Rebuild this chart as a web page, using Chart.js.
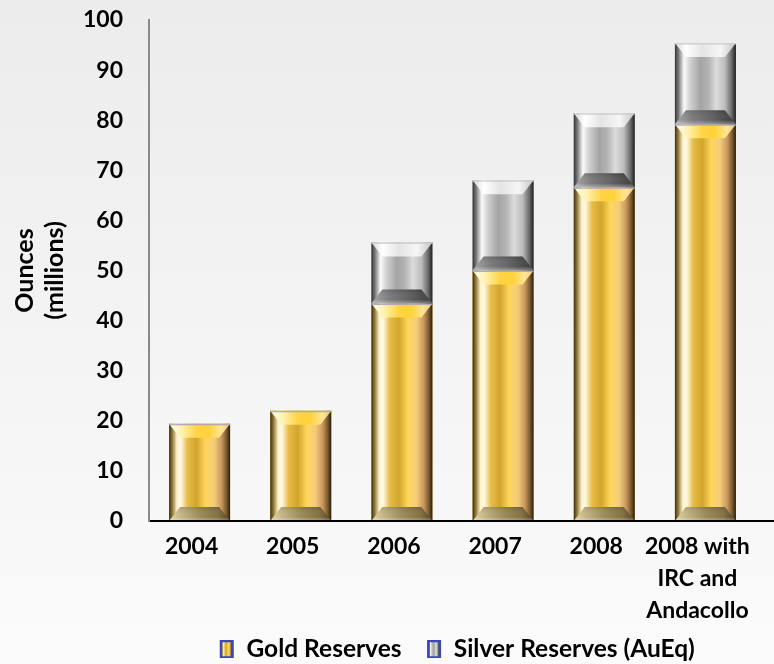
<!DOCTYPE html>
<html>
<head>
<meta charset="utf-8">
<script src="https://cdn.jsdelivr.net/npm/chart.js@4/dist/chart.umd.min.js"></script>
<style>
html,body{margin:0;padding:0;background:#f4f4f4;}
canvas{display:block;}
</style>
</head>
<body>
<canvas id="c" width="774" height="664"></canvas>
<script>
// ---- data ----
const categories = ['2004', '2005', '2006', '2007', '2008', ['2008 with', 'IRC and', 'Andacollo']];
const goldReserves = [19.4, 22.0, 43.4, 50.0, 66.6, 79.2];
const silverReserves = [null, null, 12.2, 18.0, 14.8, 16.2];
const seriesNames = ['Gold Reserves', 'Silver Reserves (AuEq)'];
const yTitle = ['Ounces', '(millions)'];
const yMin = 0, yMax = 100, yStep = 10;

// ---- styles ----
const FONT = 'Lato, "Open Sans", "Liberation Sans", sans-serif';
const PALETTES = [
  { // gold
    body: [[0,'#3e2f0c'],[0.05,'#8a7434'],[0.13,'#fff3cc'],[0.19,'#fff8e6'],[0.3,'#e6bd48'],[0.45,'#d2a52c'],[0.6,'#ffd65c'],[0.74,'#f4cc7a'],[0.86,'#c8965c'],[0.94,'#7a5a30'],[1,'#2a1d08']],
    top: [[0,'#fffdf0'],[0.2,'#fff2b4'],[0.45,'#ffd443'],[0.65,'#ffd23a'],[0.85,'#ffe594'],[1,'#f2c88c']],
    bottom: [[0,'#e0d4a8'],[0.2,'#c4b484'],[0.5,'#9c8a5a'],[0.8,'#847040'],[1,'#4e4024']],
    edge: 'rgba(170,165,185,0.9)',
    solid: '#e2b43a'
  },
  { // silver
    body: [[0,'#343434'],[0.06,'#7a7a7a'],[0.15,'#fbfbfb'],[0.25,'#d0d0d0'],[0.42,'#a4a4a4'],[0.55,'#b4b4b4'],[0.68,'#dcdcdc'],[0.82,'#bcbcbc'],[0.93,'#6a6a6a'],[1,'#1e1e1e']],
    top: [[0,'#d8d8d8'],[0.18,'#ffffff'],[0.45,'#e4e4e4'],[0.75,'#f6f6f6'],[1,'#c4c4c4']],
    bottom: [[0,'#a8a8a8'],[0.3,'#7a7a7a'],[0.6,'#626262'],[1,'#3a3a3a']],
    edge: 'rgba(205,205,205,0.9)',
    solid: '#b0b0b0'
  }
];

function hGrad(ctx, x0, x1, stops) {
  const g = ctx.createLinearGradient(x0, 0, x1, 0);
  stops.forEach(s => g.addColorStop(s[0], s[1]));
  return g;
}

function paintBar(ctx, x0, x1, yT, yB, pal) {
  const w = x1 - x0, h = yB - yT;
  const bx = Math.min(11, w / 4), by = Math.min(14, h / 3);
  ctx.save();
  ctx.fillStyle = hGrad(ctx, x0, x1, pal.body);
  ctx.fillRect(x0, yT, w, h);
  // top bevel
  ctx.beginPath();
  ctx.moveTo(x0, yT); ctx.lineTo(x1, yT); ctx.lineTo(x1 - bx, yT + by); ctx.lineTo(x0 + bx, yT + by); ctx.closePath();
  ctx.fillStyle = hGrad(ctx, x0, x1, pal.top);
  ctx.fill();
  // bottom bevel
  ctx.beginPath();
  ctx.moveTo(x0, yB); ctx.lineTo(x1, yB); ctx.lineTo(x1 - bx, yB - by); ctx.lineTo(x0 + bx, yB - by); ctx.closePath();
  ctx.fillStyle = hGrad(ctx, x0, x1, pal.bottom);
  ctx.fill();
  const vg = ctx.createLinearGradient(0, yB - by, 0, yB);
  vg.addColorStop(0, 'rgba(0,0,0,0.12)');
  vg.addColorStop(0.7, 'rgba(255,255,255,0)');
  vg.addColorStop(1, 'rgba(255,255,255,0.35)');
  ctx.fillStyle = vg;
  ctx.fill();
  // thin top edge
  ctx.fillStyle = pal.edge;
  ctx.fillRect(x0, yT, w, 1.5);
  ctx.restore();
}

const barPaint = {
  id: 'barPaint',
  afterDatasetsDraw(chart) {
    const ctx = chart.ctx;
    chart.data.datasets.forEach((ds, di) => {
      const meta = chart.getDatasetMeta(di);
      if (meta.hidden) return;
      meta.data.forEach((el, i) => {
        if (ds.data[i] == null) return;
        const p = el.getProps(['x', 'y', 'base', 'width'], true);
        const yT = Math.min(p.y, p.base), yB = Math.max(p.y, p.base);
        if (yB - yT < 1) return;
        paintBar(ctx, p.x - p.width / 2, p.x + p.width / 2, yT, yB, PALETTES[di]);
      });
    });
  }
};

const bgPaint = {
  id: 'bgPaint',
  beforeDraw(chart) {
    const ctx = chart.ctx;
    const g = ctx.createLinearGradient(0, 0, 0, chart.height);
    g.addColorStop(0, '#ececec');
    g.addColorStop(1, '#fbfbfb');
    ctx.save();
    ctx.fillStyle = g;
    ctx.fillRect(0, 0, chart.width, chart.height);
    ctx.restore();
  }
};

const axisExtend = {
  id: 'axisExtend',
  afterDraw(chart) {
    const ctx = chart.ctx;
    const y = chart.scales.x.top;
    ctx.save();
    ctx.strokeStyle = '#000';
    ctx.lineWidth = 2;
    ctx.beginPath();
    ctx.moveTo(chart.chartArea.left + 2, y);
    ctx.lineTo(chart.width, y);
    ctx.stroke();
    ctx.restore();
  }
};

// legend swatch: 14x18 framed box drawn at the right of a 25px-wide transparent image
function makeLegendImg(stops) {
  const c = document.createElement('canvas');
  c.width = 25; c.height = 18;
  const g = c.getContext('2d');
  const gr = g.createLinearGradient(12, 0, 22, 0);
  stops.forEach(s => gr.addColorStop(s[0], s[1]));
  g.fillStyle = gr;
  g.fillRect(12, 2, 10, 14);
  g.strokeStyle = '#3b47b8';
  g.lineWidth = 2;
  g.strokeRect(11, 1, 12, 16);
  return c;
}
const legendImgs = PALETTES.map(p => makeLegendImg(p.body));

Chart.defaults.font.family = FONT;

new Chart(document.getElementById('c'), {
  type: 'bar',
  data: {
    labels: categories,
    datasets: [
      { label: seriesNames[0], data: goldReserves, backgroundColor: PALETTES[0].solid, borderWidth: 0 },
      { label: seriesNames[1], data: silverReserves, backgroundColor: PALETTES[1].solid, borderWidth: 0 }
    ]
  },
  options: {
    responsive: false,
    animation: false,
    devicePixelRatio: 1,
    layout: { padding: { top: 20, right: 18, bottom: 0, left: 4 } },
    datasets: { bar: { barPercentage: 0.603, categoryPercentage: 1 } },
    scales: {
      x: {
        stacked: true,
        grid: { display: false, drawTicks: false },
        border: { display: true, color: '#000', width: 2 },
        ticks: {
          color: '#000',
          padding: 10,
          labelOffset: -8,
          maxRotation: 0,
          autoSkip: false,
          font: { size: 23, weight: 'bold', lineHeight: 1.39 }
        },
        afterFit(scale) { scale.height = 100; }
      },
      y: {
        stacked: true,
        min: yMin, max: yMax,
        grid: { display: false, drawTicks: false },
        border: { display: true, color: '#8a8a8a', width: 2 },
        ticks: {
          stepSize: yStep,
          color: '#000',
          padding: 26,
          font: { size: 23, weight: 'bold' }
        },
        title: {
          display: true,
          text: yTitle,
          color: '#000',
          padding: { top: 6, bottom: 0 },
          font: { size: 25, weight: 'bold', lineHeight: 1.2 }
        },
        afterFit(scale) {
          scale.width = 145;
          scale.paddingTop = 14;
          scale.paddingBottom = 14;
        }
      }
    },
    plugins: {
      legend: {
        position: 'bottom',
        fullSize: false,
        maxHeight: 43,
        labels: {
          usePointStyle: true,
          boxWidth: 24,
          boxHeight: 18,
          padding: 16,
          color: '#000',
          font: { size: 24.5, weight: 'bold' },
          generateLabels(chart) {
            return chart.data.datasets.map((ds, i) => ({
              text: ds.label,
              pointStyle: legendImgs[i],
              fillStyle: PALETTES[i].solid,
              strokeStyle: '#3b47b8',
              lineWidth: 0,
              hidden: !chart.isDatasetVisible(i),
              datasetIndex: i
            }));
          }
        }
      },
      tooltip: { enabled: false }
    }
  },
  plugins: [bgPaint, barPaint, axisExtend]
});
</script>
</body>
</html>
